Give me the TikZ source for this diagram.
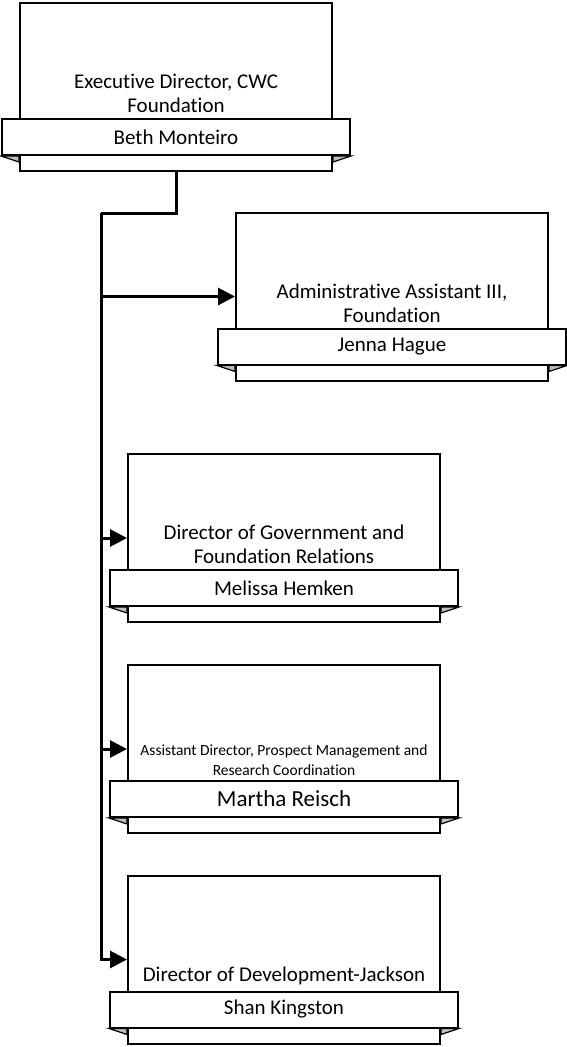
\documentclass[tikz,border=0pt]{standalone}
\usepackage{fontspec}
\setmainfont{Carlito}[Ligatures=NoCommon]
\usetikzlibrary{positioning,arrows.meta}
\tikzset{
  posbox/.style={draw, line width=2pt, minimum width=312pt, minimum height=168pt, inner sep=0pt},
  namebar/.style={draw, fill=white, line width=2pt, minimum width=348pt, minimum height=36pt, inner sep=0pt, font=\fontsize{21}{24}\selectfont},
  postitle/.style={align=center, inner sep=0pt, font=\fontsize{21}{24}\selectfont},
  fold/.style={fill=black!25, draw, line width=1.2pt},
  link/.style={line width=3pt},
  feed/.style={link, -{Triangle[length=17pt,width=17pt]}},
}
\newcommand\folds[2]{%
  \filldraw[fold] (#1.south west) -- (#2.west |- #1.south) -- ([yshift=-6pt]#2.west |- #1.south) -- cycle;
  \filldraw[fold] (#1.south east) -- (#2.east |- #1.south) -- ([yshift=-6pt]#2.east |- #1.south) -- cycle;}
\begin{document}
\begin{tikzpicture}[x=1pt, y=-1pt]
  \useasboundingbox (0,0) rectangle (567,1047);
  % positions
  \node[posbox] (exec) at (176,87) {};
  \node[posbox] (jenna) at (392,296.5) {};
  \node[posbox] (melissa) at (284,538) {};
  \node[posbox] (martha) at (284,749) {};
  \node[posbox] (shan) at (284,959.5) {};
  % name bars
  \node[namebar] (execN) at ([yshift=35pt]exec.south) {Beth Monteiro};
  \node[namebar] (jennaN) at ([yshift=35pt]jenna.south) {Jenna Hague};
  \node[namebar] (melissaN) at ([yshift=35pt]melissa.south) {Melissa Hemken};
  \node[namebar, font=\fontsize{23}{26}\selectfont] (marthaN) at ([yshift=35pt]martha.south) {Martha Reisch};
  \node[namebar] (shanN) at ([yshift=35pt]shan.south) {Shan Kingston};
  \folds{execN}{exec} \folds{jennaN}{jenna} \folds{melissaN}{melissa}
  \folds{marthaN}{martha} \folds{shanN}{shan}
  % titles
  \node[postitle, above=5pt of execN] (execT) {Executive Director, CWC\\Foundation};
  \node[postitle, above=5pt of jennaN] (jennaT) {Administrative Assistant III,\\Foundation};
  \node[postitle, above=5pt of melissaN] (melissaT) {Director of Government and\\Foundation Relations};
  \node[postitle, above=4pt of marthaN, font=\fontsize{15.5}{20}\selectfont] (marthaT) {Assistant Director, Prospect Management and\\Research Coordination};
  \node[postitle, above=5pt of shanN] (shanT) {Director of Development-Jackson};
  % reporting lines
  \coordinate (bus) at (101,213);
  \draw[link] (exec.south) |- (bus);
  \draw[feed] (bus) |- (jenna.west);
  \draw[feed] (bus) |- (melissa.west);
  \draw[feed] (bus) |- (martha.west);
  \draw[feed] (bus) |- (shan.west);
\end{tikzpicture}
\end{document}
